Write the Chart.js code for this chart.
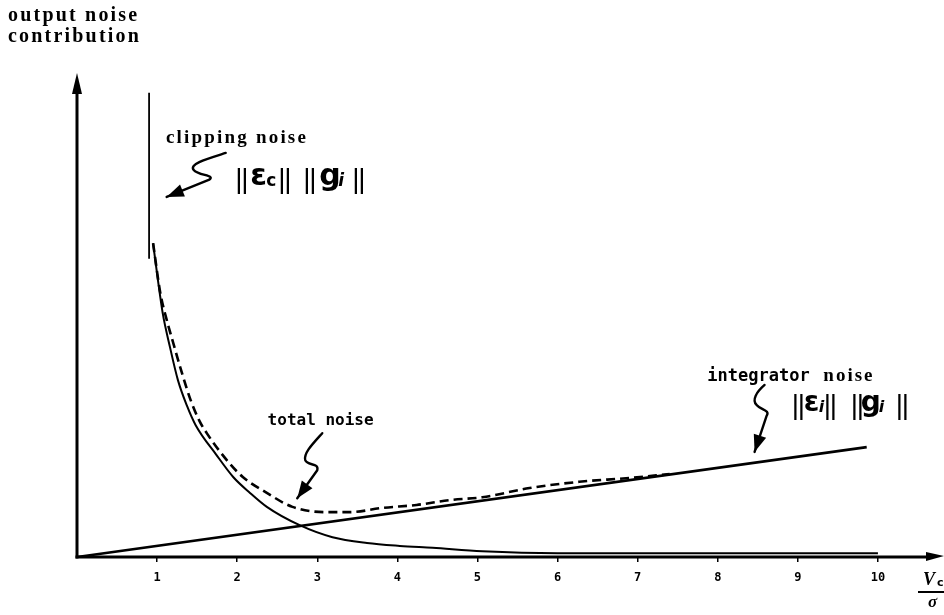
<!DOCTYPE html>
<html>
<head>
<meta charset="utf-8">
<script src="https://cdn.jsdelivr.net/npm/chart.js@4.4.1/dist/chart.umd.min.js"></script>
<style>
  html, body { margin: 0; padding: 0; background: #fff; }
  #wrap { width: 944px; height: 615px; }
</style>
</head>
<body>
<div id="wrap"><canvas id="noiseChart" width="944" height="615"></canvas></div>
<script>
// Normalised clipping level Vc/sigma on the horizontal axis
const ratioTicks = [1, 2, 3, 4, 5, 6, 7, 8, 9, 10];
const tickLabels = ['1', '2', '3', '4', '5', '6', '7', '8', '9', '10'];

// Clipping noise ||e_c|| ||g_i|| (solid curve)
const clipX = [0.95, 1.01, 1.07, 1.16, 1.26, 1.37, 1.48, 1.74, 1.95, 2.16, 2.37, 2.78, 3.19, 3.62, 4.03, 4.44, 5.06, 6.0, 7.0, 8.0, 9.0, 10.0];
const clipY = [6.51, 5.75, 5.06, 4.36, 3.67, 3.15, 2.74, 2.12, 1.66, 1.33, 1.04, 0.66, 0.41, 0.29, 0.23, 0.19, 0.12, 0.08, 0.08, 0.08, 0.08, 0.08];

// Total noise (dashed curve)
const totalX = [0.95, 1.04, 1.12, 1.20, 1.31, 1.42, 1.53, 1.62, 1.87, 2.07, 2.37, 2.69, 3.12, 3.40, 3.82, 4.24, 4.65, 5.06, 5.65, 6.27, 6.90, 7.40];
const totalY = [6.51, 5.48, 4.92, 4.45, 3.82, 3.25, 2.82, 2.57, 2.01, 1.66, 1.33, 1.04, 0.93, 0.93, 1.02, 1.08, 1.18, 1.24, 1.43, 1.56, 1.64, 1.72];

// Integrator noise ||e_i|| ||g_i|| (straight line)
const integX = [0, 9.86];
const integY = [0, 2.28];

// Vertical marker at the clipping threshold
const markX = [0.9, 0.9];
const markY = [6.19, 9.63];

const toPoints = (xs, ys) => xs.map((x, i) => ({ x: x, y: ys[i] }));

const INK = '#000';
const SERIF_B = 'bold 19px "Liberation Serif", "DejaVu Serif", serif';
const MONO_B = 'bold 16px "DejaVu Sans Mono", monospace';
const BAR_F = '28px "Liberation Sans", sans-serif';

// Annotation layout (anchors in data units, fine offsets in pixels)
const notes = {
  clipText:  { x: 1.11, y: 8.59, text: 'clipping noise' },
  clipForm:  { x: 2.0,  y: 7.72, big: 30, sub: 17, subChar1: 'c', eps: 13, g: 82,
               bars: [0, 6, 43, 49, 68, 74, 117, 123], subC: 29, subI: 101 },
  integWord: { x: 7.87, y: 3.65 },
  integForm: { x: 8.95, y: 3.03, big: 28, sub: 16, subChar1: 'i', eps: 10, g: 67,
               bars: [0, 6, 32, 38, 59, 65, 104, 110], subC: 25, subI: 85 },
  totalText: { x: 2.38, y: 2.74, text: 'total noise' },
  clipTip:   { x: 1.12, y: 7.47, path: [[59, -44], [40, -38, 22, -33, 27, -27], [32, -21, 50, -22, 42, -17]] },
  integTip:  { x: 8.46, y: 2.18, path: [[10, -67], [2, -60, -3, -52, 2, -47], [6, -42, 16, -42, 12, -36]] },
  totalTip:  { x: 2.75, y: 1.22, path: [[25, -65], [16, -55, 6, -45, 8, -38], [10, -32, 22, -36, 20, -28]] }
};

function arrowHead(ctx, fromX, fromY, tipX, tipY, len, half) {
  const a = Math.atan2(tipY - fromY, tipX - fromX);
  ctx.beginPath();
  ctx.moveTo(tipX, tipY);
  ctx.lineTo(tipX - len * Math.cos(a) + half * Math.sin(a), tipY - len * Math.sin(a) - half * Math.cos(a));
  ctx.lineTo(tipX - len * Math.cos(a) - half * Math.sin(a), tipY - len * Math.sin(a) + half * Math.cos(a));
  ctx.closePath();
  ctx.fill();
}

function squiggle(ctx, tx, ty, path) {
  ctx.beginPath();
  ctx.moveTo(tx + path[0][0], ty + path[0][1]);
  let last = path[0];
  for (let i = 1; i < path.length; i++) {
    const p = path[i];
    ctx.bezierCurveTo(tx + p[0], ty + p[1], tx + p[2], ty + p[3], tx + p[4], ty + p[5]);
    last = [p[4], p[5]];
  }
  ctx.lineTo(tx, ty);
  ctx.stroke();
  arrowHead(ctx, tx + last[0], ty + last[1], tx, ty, 17, 6.5);
}

function drawNorm(ctx, x0, y0, f) {
  // ||e_k|| ||g_i|| built from bars, a bold epsilon, a bold g and subscripts
  const big = 'bold ' + f.big + 'px "DejaVu Sans", sans-serif';
  const sub = 'bold ' + f.sub + 'px "DejaVu Sans", sans-serif';
  const subIt = 'bold italic ' + f.sub + 'px "DejaVu Sans", sans-serif';
  ctx.textBaseline = 'alphabetic';
  ctx.textAlign = 'left';
  ctx.font = BAR_F;
  f.bars.forEach(dx => ctx.fillText('|', x0 + dx - 2, y0 + 3));
  ctx.font = big;
  ctx.fillText('\u03b5', x0 + f.eps, y0);
  ctx.fillText('g', x0 + f.g, y0);
  ctx.font = f.subChar1 === 'c' ? sub : subIt;
  ctx.fillText(f.subChar1, x0 + f.subC, y0 + 1);
  ctx.font = subIt;
  ctx.fillText('i', x0 + f.subI, y0 + 1);
}

const annotate = {
  id: 'annotate',
  beforeDatasetsDraw(chart) {
    const { ctx, chartArea, scales } = chart;
    const x0 = scales.x.getPixelForValue(0);
    const y0 = scales.y.getPixelForValue(0);
    ctx.save();
    ctx.strokeStyle = INK;
    ctx.fillStyle = INK;
    ctx.lineCap = 'butt';
    // vertical axis with arrow
    ctx.lineWidth = 3;
    ctx.beginPath();
    ctx.moveTo(x0, y0 + 1.5);
    ctx.lineTo(x0, chartArea.top + 16);
    ctx.stroke();
    ctx.beginPath();
    ctx.moveTo(x0, chartArea.top - 2);
    ctx.lineTo(x0 - 5, chartArea.top + 19);
    ctx.lineTo(x0 + 5, chartArea.top + 19);
    ctx.closePath();
    ctx.fill();
    // horizontal axis with arrow
    ctx.beginPath();
    ctx.moveTo(x0 - 1.5, y0);
    ctx.lineTo(chartArea.right - 4, y0);
    ctx.stroke();
    ctx.beginPath();
    ctx.moveTo(chartArea.right + 10, y0 - 1);
    ctx.lineTo(chartArea.right - 8, y0 - 5);
    ctx.lineTo(chartArea.right - 8, y0 + 4);
    ctx.closePath();
    ctx.fill();
    ctx.restore();
  },
  afterDraw(chart) {
    const { ctx, scales } = chart;
    const px = v => scales.x.getPixelForValue(v);
    const py = v => scales.y.getPixelForValue(v);
    ctx.save();
    ctx.fillStyle = INK;
    ctx.strokeStyle = INK;
    ctx.textAlign = 'left';
    ctx.textBaseline = 'alphabetic';

    // vertical axis title
    ctx.font = 'bold 20px "Liberation Serif", "DejaVu Serif", serif';
    ctx.letterSpacing = '2.2px';
    ctx.fillText('output noise', 8, 21);
    ctx.fillText('contribution', 8, 42);

    // clipping noise label
    ctx.font = SERIF_B;
    ctx.fillText(notes.clipText.text, px(notes.clipText.x), py(notes.clipText.y));

    // integrator noise label (two typefaces)
    ctx.letterSpacing = '0px';
    ctx.font = 'bold 17px "DejaVu Sans Mono", monospace';
    ctx.fillText('integrator', px(notes.integWord.x), py(notes.integWord.y));
    ctx.font = SERIF_B;
    ctx.letterSpacing = '2px';
    ctx.fillText('noise', px(notes.integWord.x) + 116, py(notes.integWord.y));

    // total noise label
    ctx.letterSpacing = '0px';
    ctx.font = MONO_B;
    ctx.fillText(notes.totalText.text, px(notes.totalText.x), py(notes.totalText.y));

    // norm formulas
    drawNorm(ctx, px(notes.clipForm.x), py(notes.clipForm.y), notes.clipForm);
    drawNorm(ctx, px(notes.integForm.x), py(notes.integForm.y), notes.integForm);

    // hand-drawn pointer arrows
    ctx.lineWidth = 2.4;
    ctx.lineJoin = 'round';
    ctx.lineCap = 'round';
    [notes.clipTip, notes.integTip, notes.totalTip].forEach(t => squiggle(ctx, px(t.x), py(t.y), t.path));

    // horizontal axis label Vc / sigma
    const ax = scales.x.right;
    const ay = scales.x.top;
    ctx.font = 'bold italic 18px "Liberation Serif", "DejaVu Serif", serif';
    ctx.fillText('V', ax - 11, ay + 28);
    ctx.font = 'bold 11px "DejaVu Sans", sans-serif';
    ctx.fillText('c', ax + 3, ay + 29);
    ctx.fillRect(ax - 16, ay + 34, 26, 2);
    ctx.font = 'bold italic 17px "Liberation Serif", "DejaVu Serif", serif';
    ctx.fillText('\u03c3', ax - 6, ay + 50);
    ctx.restore();
  }
};

new Chart(document.getElementById('noiseChart'), {
  type: 'line',
  data: {
    datasets: [
      { label: 'integrator noise', data: toPoints(integX, integY), borderColor: INK, borderWidth: 2.6, pointRadius: 0, tension: 0 },
      { label: 'clipping noise', data: toPoints(clipX, clipY), borderColor: INK, borderWidth: 2, pointRadius: 0, cubicInterpolationMode: 'monotone' },
      { label: 'total noise', data: toPoints(totalX, totalY), borderColor: INK, borderWidth: 2.6, borderDash: [9, 5], pointRadius: 0, cubicInterpolationMode: 'monotone' },
      { label: 'clipping level', data: toPoints(markX, markY), borderColor: INK, borderWidth: 1.8, pointRadius: 0 }
    ]
  },
  options: {
    responsive: false,
    animation: false,
    devicePixelRatio: 1,
    layout: { padding: { left: 77, right: 10, top: 75, bottom: 18 } },
    plugins: { legend: { display: false }, tooltip: { enabled: false } },
    scales: {
      x: {
        type: 'linear',
        min: 0,
        max: 10.7,
        afterBuildTicks: s => { s.ticks = ratioTicks.map(v => ({ value: v })); },
        afterFit: s => { s.height = 40; },
        border: { display: false },
        grid: { display: true, drawOnChartArea: false, drawTicks: true, tickLength: 5, color: INK, lineWidth: 1.5 },
        ticks: {
          color: INK,
          padding: 9,
          maxRotation: 0,
          autoSkip: false,
          font: { family: '"DejaVu Sans Mono", monospace', size: 12, weight: 'bold' },
          callback: (v) => tickLabels[ratioTicks.indexOf(v)] || ''
        }
      },
      y: { type: 'linear', min: 0, max: 10, display: false }
    }
  },
  plugins: [annotate]
});
</script>
</body>
</html>
